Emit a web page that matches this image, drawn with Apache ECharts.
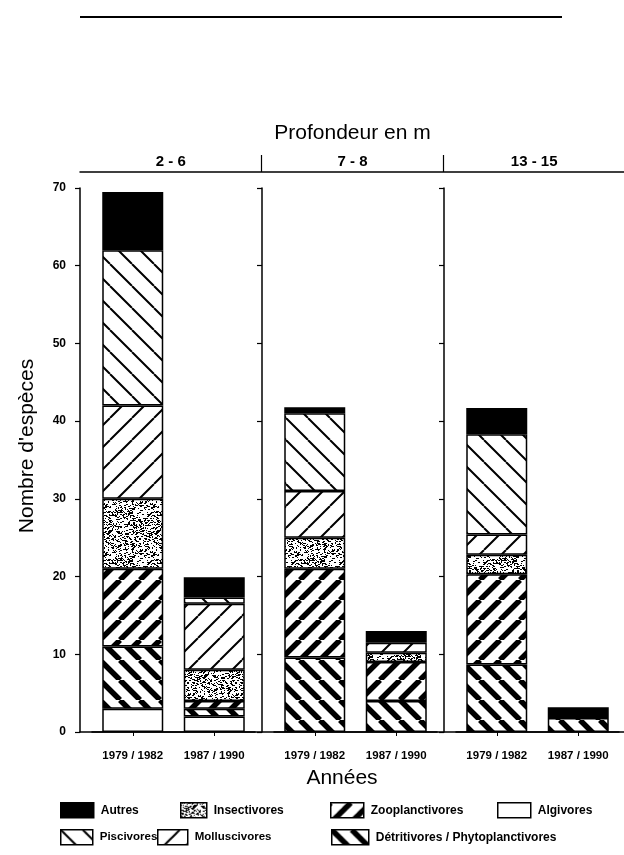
<!DOCTYPE html>
<html>
<head>
<meta charset="utf-8">
<script src="https://cdn.jsdelivr.net/npm/echarts@6/dist/echarts.min.js"></script>
<style>
  html, body { margin: 0; padding: 0; background: #fff; }
  #chart { width: 624px; height: 855px; }
</style>
</head>
<body>
<div id="chart"></div>
<script>
// Depth classes (panels) and sampling periods (bars inside each panel)
const depthLabels = ['2 - 6', '7 - 8', '13 - 15'];
const periodLabels = ['1979 / 1982', '1987 / 1990'];

// Number of species per trophic guild, in bar order:
// [2-6 79/82, 2-6 87/90, 7-8 79/82, 7-8 87/90, 13-15 79/82, 13-15 87/90]
const algivores       = [3,   2,   0,    0,   0,    0];
const detritivores    = [8,   1,   9.6,  4,   8.7,  1.8];
const zooplanctivores = [10,  1,   11.4, 5,   11.6, 0];
const insectivores    = [9,   4,   4,    1.2, 2.5,  0];
const molluscivores   = [12,  8.5, 6,    1.3, 2.6,  0];
const piscivores      = [20,  0.8, 10,   0,   12.9, 0];
const autres          = [7.5, 2.6, 0.8,  1.5, 3.4,  1.4];

// y axis range
const yMin = 0, yMax = 70, yStep = 10;

// ---- fill textures -------------------------------------------------------
function hatchTile(size, lineWidth, forward) {
  const c = document.createElement('canvas');
  c.width = c.height = size;
  const g = c.getContext('2d');
  g.fillStyle = '#fff';
  g.fillRect(0, 0, size, size);
  g.strokeStyle = '#000';
  g.lineWidth = lineWidth;
  g.beginPath();
  for (let k = -1; k <= 1; k++) {
    if (forward) { g.moveTo(k * size, size); g.lineTo(k * size + size, 0); }
    else { g.moveTo(k * size, 0); g.lineTo(k * size + size, size); }
  }
  g.stroke();
  return { image: c, repeat: 'repeat' };
}

function stippleTile(size) {
  const c = document.createElement('canvas');
  c.width = c.height = size;
  const g = c.getContext('2d');
  g.fillStyle = '#fff';
  g.fillRect(0, 0, size, size);
  g.fillStyle = '#000';
  // fixed hash so the speckle is identical on every draw
  for (let i = 0; i < size * size * 0.3; i++) {
    const h1 = Math.abs(Math.sin(i * 12.9898 + 78.233) * 43758.5453) % 1;
    const h2 = Math.abs(Math.sin(i * 39.3468 + 11.135) * 24634.6345) % 1;
    const h3 = Math.abs(Math.sin(i * 7.1301 + 3.71) * 9631.77) % 1;
    const w = h3 > 0.6 ? 2 : 1;
    g.fillRect(Math.floor(h1 * size), Math.floor(h2 * size), w, 1);
  }
  return { image: c, repeat: 'repeat' };
}

const guilds = [
  { name: 'Algivores', values: algivores, fill: '#ffffff' },
  { name: 'Détritivores / Phytoplanctivores', values: detritivores, fill: hatchTile(20, 5.5, false) },
  { name: 'Zooplanctivores', values: zooplanctivores, fill: hatchTile(20, 5.5, true) },
  { name: 'Insectivores', values: insectivores, fill: stippleTile(48) },
  { name: 'Molluscivores', values: molluscivores, fill: hatchTile(22, 2, true) },
  { name: 'Piscivores', values: piscivores, fill: hatchTile(22, 2, false) },
  { name: 'Autres', values: autres, fill: '#000000' }
];

const FONT = '"Liberation Sans", Arial, sans-serif';

// ---- layout -------------------------------------------------------------
const plotTop = 188, plotBottom = 123;
const panelStarts = [80, 262, 444];
const barInset = 12, panelWidth = 163;

// frame grid spans all three panels (its closing edge falls just past the canvas)
const grids = [{
  left: 80, width: 545, top: plotTop, bottom: plotBottom,
  containLabel: false, outerBoundsMode: 'none'
}];
panelStarts.forEach(x => grids.push({
  left: x + barInset, width: panelWidth, top: plotTop, bottom: plotBottom,
  containLabel: false, outerBoundsMode: 'none'
}));

const xAxes = [
  // depth header across all panels
  {
    gridIndex: 0, type: 'category', position: 'top', offset: 16, data: depthLabels,
    name: 'Profondeur en m', nameLocation: 'middle', nameGap: 28,
    nameTextStyle: { fontFamily: FONT, fontSize: 21, color: '#000' },
    axisLine: { show: true, onZero: false, lineStyle: { color: '#000', width: 1.5 } },
    axisTick: { show: true, length: 17, interval: (i) => i > 0, lineStyle: { color: '#000', width: 1.2 } },
    axisLabel: { margin: 3, interval: 0, fontFamily: FONT, fontSize: 15, fontWeight: 'bold', color: '#000' }
  },
  // continuous baseline
  {
    gridIndex: 0, type: 'category', position: 'bottom', data: depthLabels,
    name: 'Années', nameLocation: 'middle', nameGap: 36,
    nameTextStyle: { fontFamily: FONT, fontSize: 21, color: '#000', padding: [0, 21, 0, 0] },
    axisLine: { show: true, onZero: false, lineStyle: { color: '#000', width: 1.5 } },
    axisTick: { show: false }, axisLabel: { show: false }
  }
];
const yAxes = [{ gridIndex: 0, type: 'value', min: yMin, max: yMax, show: false }];

panelStarts.forEach((x, p) => {
  xAxes.push({
    gridIndex: p + 1, type: 'category', data: periodLabels,
    axisLine: { onZero: false, lineStyle: { color: '#000', width: 1.5 } },
    axisTick: { show: true, alignWithLabel: true, length: 4, lineStyle: { color: '#000' } },
    axisLabel: { margin: 18, interval: 0, fontFamily: FONT, fontSize: 11.5, fontWeight: 'bold', color: '#000' }
  });
  yAxes.push({
    gridIndex: p + 1, type: 'value', min: yMin, max: yMax, interval: yStep, offset: barInset,
    name: p === 0 ? "Nombre d'espèces" : '', nameLocation: 'middle', nameGap: 42,
    nameTextStyle: { fontFamily: FONT, fontSize: 21, color: '#000', padding: [0, 0, 0, 28] },
    axisLine: { show: true, onZero: false, lineStyle: { color: '#000', width: 1.5 } },
    axisTick: { show: true, length: 5, lineStyle: { color: '#000', width: 1.2 } },
    axisLabel: { show: p === 0, margin: 14, fontFamily: FONT, fontSize: 12, fontWeight: 'bold', color: '#000' },
    splitLine: { show: false }
  });
});

const series = [];
panelStarts.forEach((x, p) => {
  guilds.forEach(gd => {
    series.push({
      type: 'bar', name: gd.name, stack: 'panel' + p,
      xAxisIndex: p + 2, yAxisIndex: p + 1, barWidth: 61,
      data: gd.values.slice(2 * p, 2 * p + 2).map(v => (v ? v : null)),
      itemStyle: { color: gd.fill, borderColor: '#000', borderWidth: 1.5 },
      emphasis: { disabled: true }
    });
  });
});

// legend entries: [name, left, top, icon width, font size]
const legendSpots = [
  ['Autres', 60, 802, 33, 12],
  ['Insectivores', 180, 802, 26, 12],
  ['Zooplanctivores', 330, 802, 33, 12],
  ['Algivores', 497, 802, 33, 12],
  ['Piscivores', 60, 829, 32, 11.5],
  ['Molluscivores', 157, 829, 30, 11.5],
  ['Détritivores / Phytoplanctivores', 331, 829, 37, 12]
];
const legends = legendSpots.map(([name, left, top, w, fs]) => ({
  data: [name], left: left, top: top, padding: 0, orient: 'horizontal',
  icon: 'rect', itemWidth: w, itemHeight: 15, selectedMode: false,
  itemStyle: { borderColor: '#000', borderWidth: 1.5 },
  textStyle: { fontFamily: FONT, fontSize: fs, fontWeight: 'bold', color: '#000', padding: [0, 0, 0, 2] }
}));

const chart = echarts.init(document.getElementById('chart'), null, { renderer: 'canvas' });
chart.setOption({
  animation: false,
  backgroundColor: '#fff',
  grid: grids,
  xAxis: xAxes,
  yAxis: yAxes,
  legend: legends,
  series: series,
  graphic: [{
    type: 'line', shape: { x1: 80, y1: 17, x2: 562, y2: 17 },
    style: { stroke: '#000', lineWidth: 2 }
  }]
});
</script>
</body>
</html>
